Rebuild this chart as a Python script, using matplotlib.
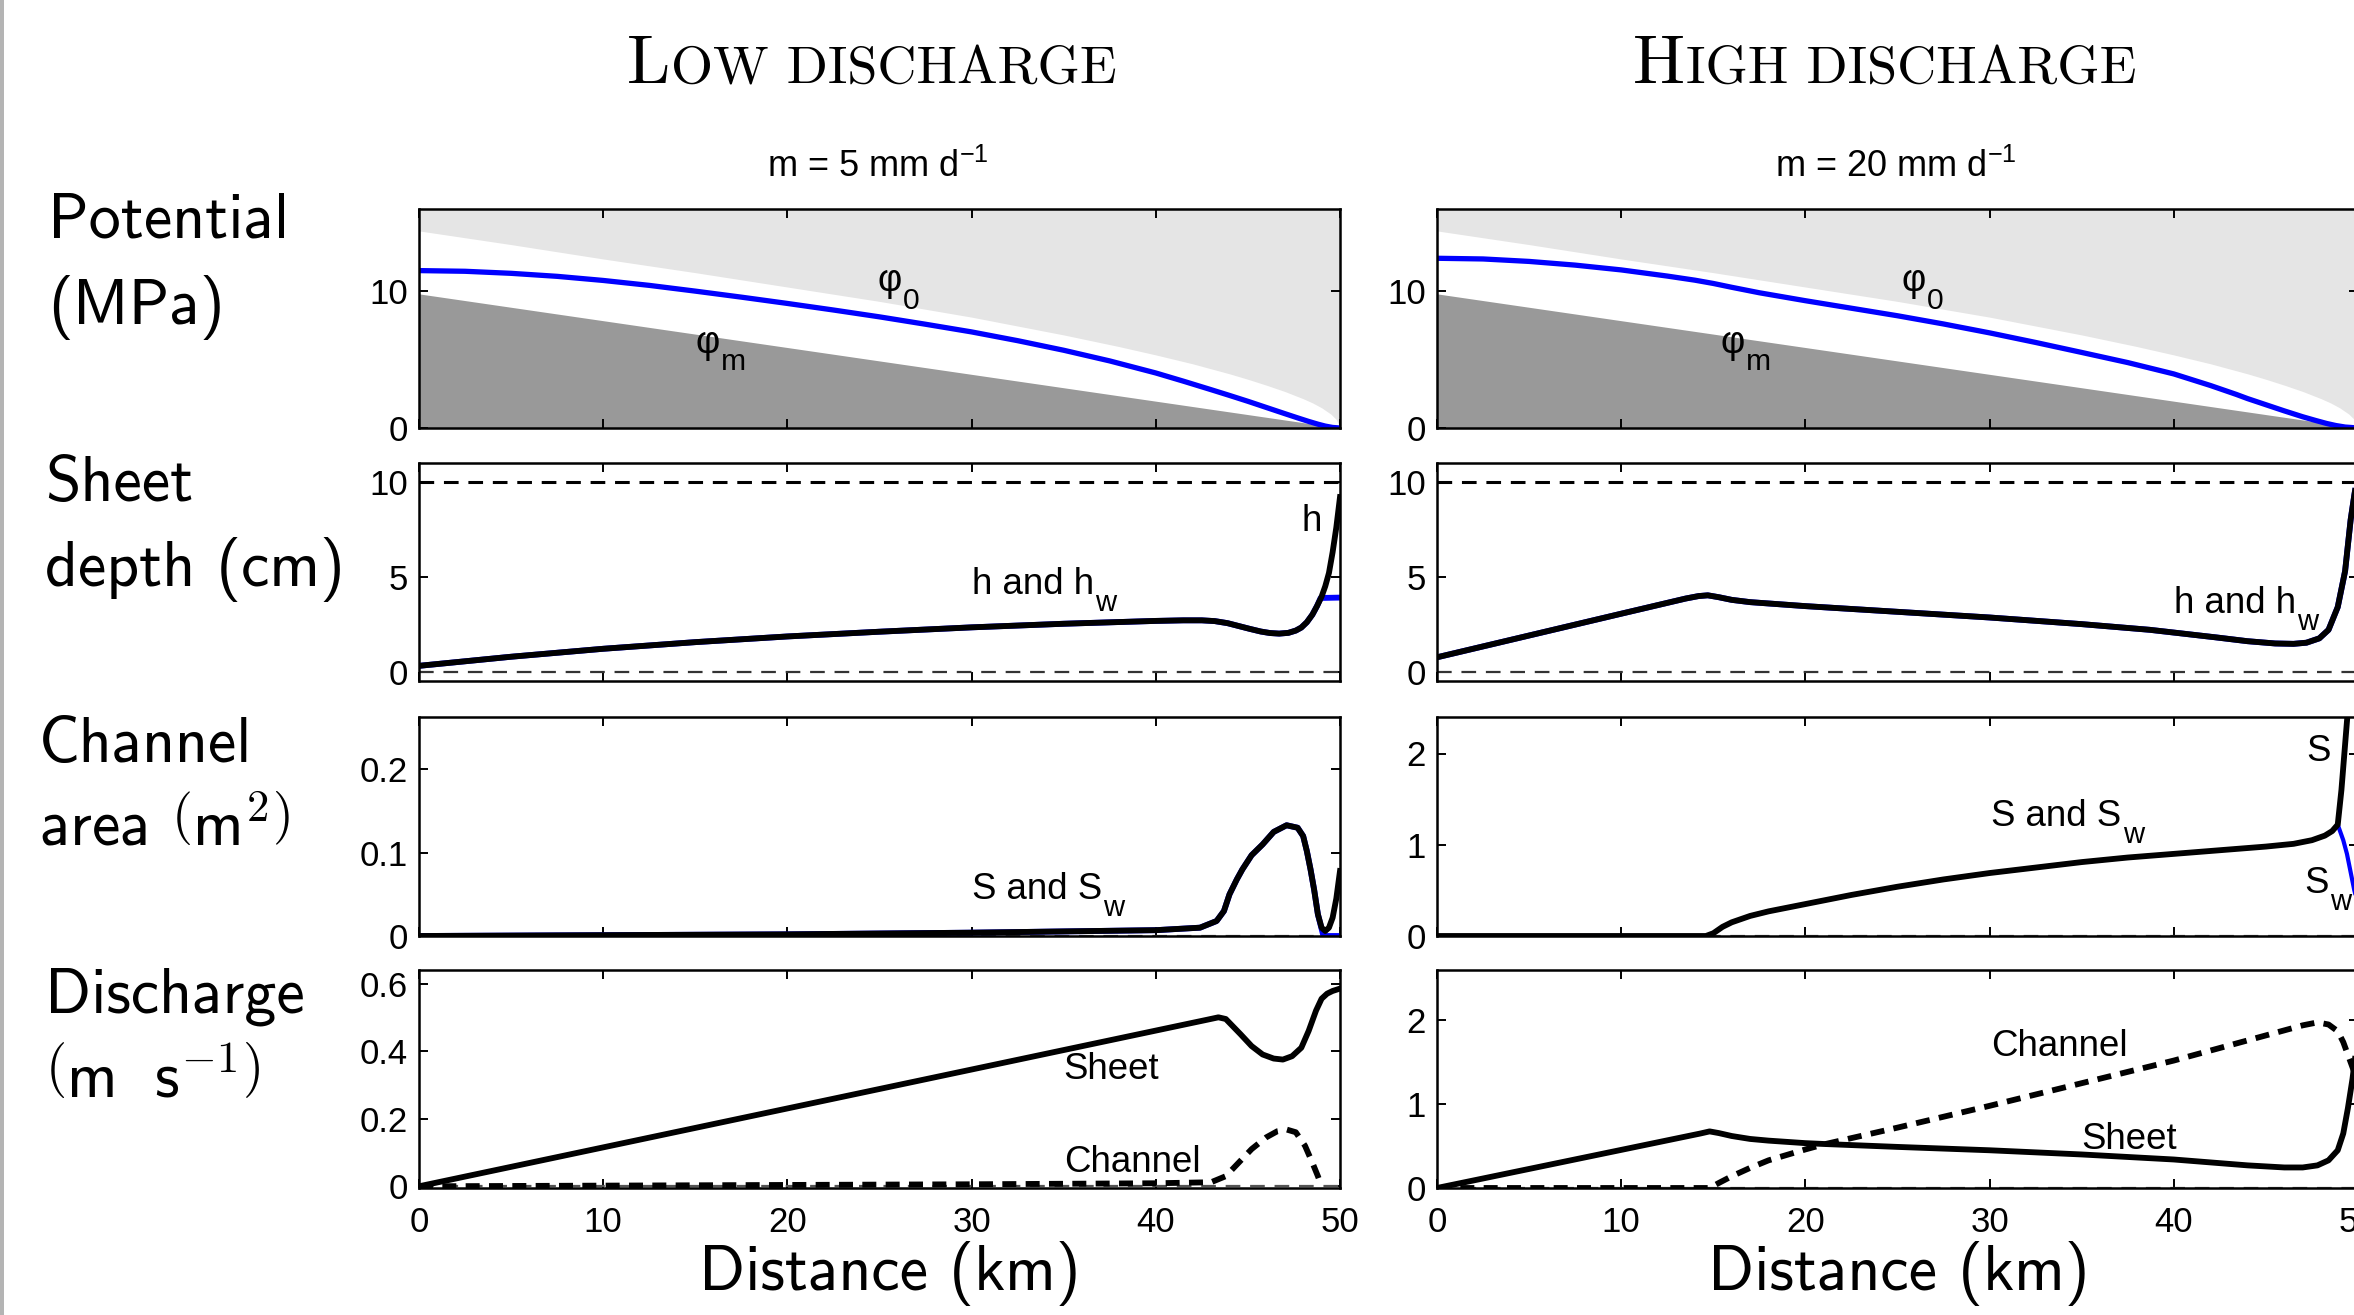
import matplotlib
matplotlib.use('Agg')
import matplotlib.pyplot as plt
from matplotlib.patches import Rectangle

# ---------------- data ----------------
# Potential panel (MPa)
x_phim = [0, 50]
phim = [9.8, 0.0]
x_phi0 = [0, 5, 10, 15, 20, 25, 30, 35, 38, 40, 42, 44, 45, 46, 47, 48, 48.5, 49, 49.5, 49.8, 50]
phi0 = [14.4, 13.4, 12.35, 11.35, 10.3, 9.25, 8.1, 6.8, 5.95, 5.34, 4.69, 3.96, 3.56, 3.13, 2.67,
        2.14, 1.84, 1.48, 1.02, 0.62, 0.0]
x_phi_lo = [0, 2.5, 5, 7.5, 10, 12.5, 15, 17.5, 20, 22.5, 25, 27.5, 30, 32.5, 35, 37.5, 40, 41.5,
            43, 44, 45, 46, 47, 47.7, 48.3, 48.8, 49.2, 49.6, 50]
phi_lo = [11.5, 11.45, 11.3, 11.08, 10.78, 10.42, 10.0, 9.56, 9.1, 8.62, 8.12, 7.58, 7.02, 6.38,
          5.68, 4.9, 4.02, 3.42, 2.8, 2.38, 1.95, 1.5, 1.05, 0.74, 0.48, 0.28, 0.14, 0.04, 0.0]
x_phi_hi = [0, 2.5, 5, 7.5, 10, 12.5, 14, 15, 16, 17.5, 20, 22.5, 25, 27.5, 30, 32.5, 35, 37.5, 40,
            42, 43.4, 44, 45, 46, 47, 47.7, 48.3, 48.8, 49.3, 50]
phi_hi = [12.4, 12.35, 12.17, 11.9, 11.55, 11.1, 10.8, 10.56, 10.28, 9.88, 9.3, 8.75, 8.2, 7.6,
          6.95, 6.25, 5.52, 4.78, 3.95, 3.1, 2.45, 2.15, 1.7, 1.25, 0.82, 0.55, 0.33, 0.18, 0.07, 0.0]

# Sheet depth (cm)
x_h_lo = [0, 5, 10, 15, 20, 25, 30, 35, 40, 41.5, 42.5, 43.2, 43.9, 44.5, 45.1, 45.7, 46.2, 46.7,
          47.2, 47.6, 47.9, 48.2, 48.5, 48.75, 49.0, 49.2, 49.4, 49.6, 49.8, 50]
h_lo = [0.3, 0.78, 1.2, 1.55, 1.85, 2.1, 2.33, 2.52, 2.67, 2.7, 2.7, 2.66, 2.55, 2.4, 2.25, 2.11,
        2.03, 2.0, 2.04, 2.16, 2.32, 2.6, 3.0, 3.45, 3.95, 4.5, 5.2, 6.3, 7.6, 9.2]
x_hw_lo = [0, 5, 10, 15, 20, 25, 30, 35, 40, 41.5, 42.5, 43.2, 43.9, 44.5, 45.1, 45.7, 46.2, 46.7,
           47.2, 47.6, 47.9, 48.2, 48.5, 48.75, 48.95, 50]
hw_lo = [0.3, 0.78, 1.2, 1.55, 1.85, 2.1, 2.33, 2.52, 2.67, 2.7, 2.7, 2.66, 2.55, 2.4, 2.25, 2.11,
         2.03, 2.0, 2.04, 2.16, 2.32, 2.6, 3.0, 3.45, 3.88, 3.9]
x_h_hi = [0, 5, 10, 13.5, 14.2, 14.7, 15.3, 16, 17, 20, 25, 30, 35, 38.7, 42.3, 44, 45.5, 46.5,
          47.2, 47.9, 48.4, 48.9, 49.3, 49.6, 49.8, 50]
h_hi = [0.75, 1.9, 3.05, 3.85, 3.98, 4.02, 3.92, 3.78, 3.66, 3.45, 3.15, 2.85, 2.5, 2.2, 1.8, 1.6,
        1.48, 1.46, 1.52, 1.75, 2.2, 3.4, 5.3, 8.0, 9.3, 10.5]

# Channel area (m^2)
x_S_lo = [0, 10, 20, 30, 40, 42.4, 43.3, 43.7, 44.0, 44.4, 44.7, 45.2, 45.8, 46.4, 47.1, 47.7, 48.0,
          48.2, 48.4, 48.6, 48.8, 49.0, 49.2, 49.4, 49.6, 49.8, 50]
S_lo = [0, 0.001, 0.002, 0.004, 0.007, 0.01, 0.018, 0.03, 0.05, 0.068, 0.08, 0.097, 0.11, 0.125,
        0.133, 0.13, 0.12, 0.102, 0.08, 0.055, 0.026, 0.01, 0.006, 0.01, 0.022, 0.045, 0.078]
x_Sw_lo = [0, 10, 20, 30, 40, 42.4, 43.3, 43.7, 44.0, 44.4, 44.7, 45.2, 45.8, 46.4, 47.1, 47.7,
           48.0, 48.2, 48.4, 48.6, 48.8, 49.1, 50]
Sw_lo = [0, 0.001, 0.002, 0.004, 0.007, 0.01, 0.018, 0.03, 0.05, 0.068, 0.08, 0.097, 0.11, 0.125,
         0.133, 0.13, 0.12, 0.102, 0.08, 0.055, 0.026, 0.0, 0.0]
x_S_hi = [0, 14.6, 15.0, 15.5, 16, 17, 18, 20, 22.5, 25, 27.5, 30, 32.5, 35, 37.5, 40, 42.5, 45, 46.5,
          47.5, 48.2, 48.6, 48.9, 49.1, 49.3, 49.5, 50]
S_hi = [0, 0, 0.03, 0.1, 0.15, 0.22, 0.27, 0.35, 0.45, 0.54, 0.62, 0.69, 0.75, 0.81, 0.86, 0.9,
        0.94, 0.98, 1.01, 1.05, 1.1, 1.15, 1.22, 1.6, 2.1, 2.6, 4.0]
x_Sw_hi = [0, 14.6, 15.0, 15.5, 16, 17, 18, 20, 22.5, 25, 27.5, 30, 32.5, 35, 37.5, 40, 42.5, 45,
           46.5, 47.5, 48.2, 48.6, 48.9, 49.2, 49.4, 49.6, 49.8, 50]
Sw_hi = [0, 0, 0.03, 0.1, 0.15, 0.22, 0.27, 0.35, 0.45, 0.54, 0.62, 0.69, 0.75, 0.81, 0.86, 0.9,
         0.94, 0.98, 1.01, 1.05, 1.1, 1.15, 1.22, 1.05, 0.9, 0.7, 0.5, 0.35]

# Discharge
x_Qs_lo = [0, 42.8, 43.4, 43.8, 44.6, 45.2, 45.8, 46.4, 46.9, 47.4, 47.9, 48.3, 48.7, 49.0, 49.3, 49.6, 50]
Qs_lo = [0, 0.493, 0.50, 0.495, 0.45, 0.415, 0.39, 0.378, 0.375, 0.385, 0.41, 0.46, 0.52, 0.555,
         0.57, 0.578, 0.585]
x_Qc_lo = [0, 10, 20, 30, 40, 43, 43.8, 44.5, 45.2, 46, 46.6, 47.1, 47.6, 48.1, 48.5, 48.8, 49.0]
Qc_lo = [0, 0.002, 0.004, 0.006, 0.009, 0.012, 0.03, 0.07, 0.11, 0.145, 0.163, 0.168, 0.16, 0.12,
         0.07, 0.03, 0.0]
x_Qs_hi = [0, 14.3, 14.8, 15.3, 16, 17, 18, 20, 21, 25, 30, 35, 40, 44, 46, 47, 47.8, 48.4, 48.9,
           49.2, 49.45, 49.7, 49.9, 50]
Qs_hi = [0, 0.65, 0.675, 0.655, 0.62, 0.585, 0.565, 0.535, 0.525, 0.49, 0.45, 0.40, 0.34, 0.27,
         0.245, 0.245, 0.27, 0.33, 0.45, 0.65, 0.95, 1.3, 1.65, 1.85]
x_Qc_hi = [0, 14.8, 15.3, 16, 17, 18, 20, 21, 22, 25, 30, 35, 40, 44, 46, 47, 47.8, 48.4, 48.9,
           49.2, 49.5, 49.8, 50]
Qc_hi = [0, 0, 0.06, 0.14, 0.24, 0.33, 0.46, 0.52, 0.57, 0.72, 0.98, 1.25, 1.52, 1.76, 1.88, 1.94,
         1.975, 1.95, 1.87, 1.74, 1.56, 1.38, 1.25]

xticks = [0, 10, 20, 30, 40, 50]

# ---------------- figure ----------------
plt.rcParams['font.family'] = ['Liberation Sans', 'DejaVu Sans']
plt.rcParams['mathtext.fontset'] = 'custom'
plt.rcParams['mathtext.rm'] = 'Liberation Sans'
plt.rcParams['mathtext.it'] = 'Liberation Sans'
plt.rcParams['mathtext.bf'] = 'Liberation Sans:bold'

W, H = 2354, 1315
fig = plt.figure(figsize=(W / 200, H / 200), dpi=200)
renderer = fig.canvas.get_renderer()


def px_axes(x0, x1, y0, y1):
    return fig.add_axes([x0 / W, 1 - y1 / H, (x1 - x0) / W, (y1 - y0) / H])


def fx(x):
    return x / W


def fy(y):
    return 1 - y / H


def sub_text(ax, x, y, base, sub, size=13.2):
    # matlab-style subscript: big and low
    t = ax.text(x, y, base, fontsize=size, va='baseline', ha='left')
    bb = t.get_window_extent(renderer=renderer)
    _, yd = ax.transData.transform((x, y))
    drop = 0.47 * size * fig.dpi / 72
    xs, ys = ax.transData.inverted().transform((bb.x1 + 1, yd - drop))
    ax.text(xs, ys, sub, fontsize=size * 0.8, va='baseline', ha='left')


cols = [(419, 1340), (1437, 2358)]
rows = [(209, 428), (463, 681), (717, 936), (970, 1188)]

ylims = [[(0, 16), (0, 16)],
         [(-0.5, 11), (-0.5, 11)],
         [(0, 0.263), (0, 2.4)],
         [(-0.005, 0.64), (0, 2.6)]]
yticks = [[[0, 10], [0, 10]],
          [[0, 5, 10], [0, 5, 10]],
          [[0, 0.1, 0.2], [0, 1, 2]],
          [[0, 0.2, 0.4, 0.6], [0, 1, 2]]]
ylabels = [[['0', '10'], ['0', '10']],
           [['0', '5', '10'], ['0', '5', '10']],
           [['0', '0.1', '0.2'], ['0', '1', '2']],
           [['0', '0.2', '0.4', '0.6'], ['0', '1', '2']]]

axes = [[px_axes(c[0], c[1], r[0], r[1]) for c in cols] for r in rows]

for i in range(4):
    for j in range(2):
        ax = axes[i][j]
        ax.set_xlim(0, 50)
        ax.set_ylim(*ylims[i][j])
        ax.set_xticks(xticks)
        ax.set_yticks(yticks[i][j])
        ax.set_yticklabels(ylabels[i][j])
        ax.tick_params(direction='in', top=True, right=True, length=3.2, width=0.7,
                       labelsize=12.5, color='black')
        ax.tick_params(axis='y', pad=4)
        ax.tick_params(axis='x', pad=6.5)
        if i < 3:
            ax.set_xticklabels([])
        for s in ax.spines.values():
            s.set_linewidth(0.9)

LW = 2.1
light = '#e5e5e5'
dark = '#999999'

# row 1: potential
for j, (xp, pp) in enumerate([(x_phi_lo, phi_lo), (x_phi_hi, phi_hi)]):
    ax = axes[0][j]
    ax.set_facecolor(light)
    ax.fill_between(x_phi0, 0, phi0, color='white', lw=0)
    ax.fill_between(x_phim, 0, phim, color=dark, lw=0)
    ax.plot(xp, pp, color='#0000ff', lw=1.9, solid_capstyle='butt')
sub_text(axes[0][0], 24.9, 10.0, 'φ', '0', 13.5)
sub_text(axes[0][0], 15.0, 5.5, 'φ', 'm', 13.5)
sub_text(axes[0][1], 25.2, 10.0, 'φ', '0', 13.5)
sub_text(axes[0][1], 15.4, 5.5, 'φ', 'm', 13.5)

# row 2: sheet depth
for j in range(2):
    ax = axes[1][j]
    ax.axhline(10, color='black', lw=1.1, dashes=(4.8, 3.2))
    ax.axhline(0, color='#333333', lw=0.8, dashes=(6.6, 4.4))
axes[1][0].plot(x_hw_lo, hw_lo, color='#0000ff', lw=LW)
axes[1][0].plot(x_h_lo, h_lo, color='black', lw=LW)
axes[1][1].plot(x_h_hi, h_hi, color='#0000ff', lw=LW)
axes[1][1].plot(x_h_hi, h_hi, color='black', lw=LW)
sub_text(axes[1][0], 30.0, 4.1, 'h and h', 'w')
axes[1][0].text(47.9, 7.9, 'h', fontsize=13.2, va='center', ha='left')
sub_text(axes[1][1], 40.0, 3.1, 'h and h', 'w')

# row 3: channel area
for j in range(2):
    axes[2][j].axhline(0, color='#555555', lw=0.8, dashes=(6.6, 4.4))
axes[2][0].plot(x_Sw_lo, Sw_lo, color='#0000ff', lw=LW)
axes[2][0].plot(x_S_lo, S_lo, color='black', lw=LW)
axes[2][1].plot(x_Sw_hi, Sw_hi, color='#0000ff', lw=1.5)
axes[2][1].plot(x_S_hi, S_hi, color='black', lw=LW)
sub_text(axes[2][0], 30.0, 0.045, 'S and S', 'w')
sub_text(axes[2][1], 30.1, 1.21, 'S and S', 'w')
axes[2][1].text(47.2, 2.02, 'S', fontsize=13.2, va='center', ha='left')
sub_text(axes[2][1], 47.1, 0.47, 'S', 'w')

# row 4: discharge
for j in range(2):
    axes[3][j].axhline(0, color='#555555', lw=0.8, dashes=(6.6, 4.4))
axes[3][0].plot(x_Qs_lo, Qs_lo, color='black', lw=LW)
axes[3][0].plot(x_Qc_lo, Qc_lo, color='black', lw=LW, dashes=(2.4, 1.6))
axes[3][1].plot(x_Qs_hi, Qs_hi, color='black', lw=LW)
axes[3][1].plot(x_Qc_hi, Qc_hi, color='black', lw=LW, dashes=(2.4, 1.6))
axes[3][0].text(35.0, 0.346, 'Sheet', fontsize=13.2, va='center', ha='left')
axes[3][0].text(35.0, 0.071, 'Channel', fontsize=13.2, va='center', ha='left')
axes[3][1].text(30.1, 1.69, 'Channel', fontsize=13.2, va='center', ha='left')
axes[3][1].text(35.0, 0.58, 'Sheet', fontsize=13.2, va='center', ha='left')

# ---------------- titles and labels ----------------
fig.text(fx(627), fy(83), 'L', family='cmr10', fontsize=25, va='baseline', ha='left')
fig.text(fx(671), fy(83), 'OW DISCHARGE', family='cmr10', fontsize=19.5, va='baseline', ha='left')
fig.text(fx(1633), fy(83), 'H', family='cmr10', fontsize=25, va='baseline', ha='left')
fig.text(fx(1686), fy(83), 'IGH DISCHARGE', family='cmr10', fontsize=19.5, va='baseline', ha='left')

fig.text(fx(878), fy(177), 'm = 5 mm d$^{-1}$', fontsize=13, va='baseline', ha='center')
fig.text(fx(1896), fy(177), 'm = 20 mm d$^{-1}$', fontsize=13, va='baseline', ha='center')

row_kw = dict(family='cmss10', fontsize=23, va='center', ha='left', math_fontfamily='cm')
fig.text(fx(48), fy(222), 'Potential', **row_kw)
fig.text(fx(48), fy(307), '(MPa)', **row_kw)
fig.text(fx(45), fy(485), 'Sheet', **row_kw)
fig.text(fx(45), fy(569), 'depth (cm)', **row_kw)
fig.text(fx(39), fy(746), 'Channel', **row_kw)
fig.text(fx(39), fy(829), 'area $\\left(\\mathsf{m}^{\\mathsf{2}}\\right)$', **row_kw)
fig.text(fx(45), fy(997), 'Discharge', **row_kw)
fig.text(fx(45), fy(1080), '$\\left(\\mathsf{m\\ \\ s}^{-\\mathsf{1}}\\right)$', **row_kw)

for cx in [890, 1899]:
    fig.text(fx(cx), fy(1273), 'Distance (km)', family='cmss10', fontsize=23,
             va='center', ha='center')

# grey strip on left edge
fig.add_artist(Rectangle((0, 0), 4 / W, 1, transform=fig.transFigure, color='#b4b4b4', lw=0))

fig.savefig('out.png', dpi=200)
